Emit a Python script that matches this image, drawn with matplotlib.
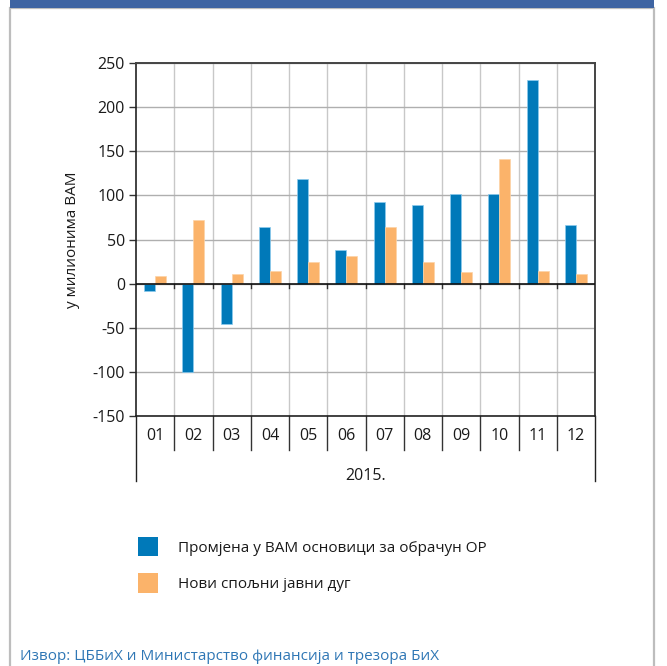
"""Monthly change in the VAM base vs. new external public debt, 2015."""

import matplotlib.pyplot as plt
from matplotlib.patches import Patch, Rectangle
import numpy as np

plt.rcParams["font.family"] = ["Open Sans", "DejaVu Sans"]
plt.rcParams["axes.unicode_minus"] = False

months = ["01", "02", "03", "04", "05", "06", "07", "08", "09", "10", "11", "12"]
year_label = "2015."
vam_base_change = [-8.6, -100.7, -46.2, 64, 119, 38, 92.3, 89.3, 101.7, 101.7, 231, 66]
new_external_debt = [8.3, 72.3, 11.3, 14.7, 24, 31.6, 64.4, 24, 12.8, 141, 14.7, 11.3]
series_labels = ["Промјена у ВАМ основици за обрачун ОР", "Нови спољни јавни дуг"]
y_label = "у милионима ВАМ"
source_text = "Извор: ЦББиХ и Министарство финансија и трезора БиХ"

BLUE = "#0079B9"
ORANGE = "#FBB36A"
GRID = "#AFAFAF"
DARK = "#333333"
TEXT = "#1a1a1a"


def main() -> None:
    fig = plt.figure(figsize=(6.67, 6.66), dpi=100)
    W, H = 667, 666

    # frame around the chart box
    fig.add_artist(Rectangle((10 / W, -0.01), 644 / W, 1.01 - 8 / H, transform=fig.transFigure,
                             fill=False, edgecolor="#BDBDBD", linewidth=1.6))
    fig.add_artist(Rectangle((10 / W, 1 - 8 / H), 644 / W, 8 / H, transform=fig.transFigure,
                             facecolor="#3E64A2", edgecolor="none"))

    ax = fig.add_axes([136 / W, 1 - 416 / H, 459 / W, 353 / H])
    x = np.arange(len(months))
    width = 0.29
    ax.bar(x - width / 2, vam_base_change, width, color=BLUE, edgecolor="#8CCBEE",
           linewidth=0.5, zorder=3)
    ax.bar(x + width / 2, new_external_debt, width, color=ORANGE, edgecolor="#FDD3A6",
           linewidth=0.5, zorder=3)

    ax.set_xlim(-0.5, len(months) - 0.5)
    ax.set_ylim(-150, 250)
    ax.set_yticks(np.arange(-150, 251, 50))
    ax.yaxis.grid(True, color=GRID, linewidth=1.0, zorder=0)
    for b in np.arange(0.5, len(months) - 0.5):
        ax.axvline(b, color="#C8C8C8", linewidth=1.0, zorder=0)
        ax.plot([b, b], [0, -4.5], color=DARK, linewidth=1.0, zorder=4)
    ax.axhline(0, color="#111111", linewidth=1.2, zorder=4)

    ax.set_xticks([])
    ax.tick_params(axis="y", length=5, width=1, color=DARK, labelsize=11.5, pad=3,
                   labelcolor=TEXT)
    for side in ("left", "bottom"):
        ax.spines[side].set_color("#222222")
        ax.spines[side].set_linewidth(1.2)
    for side in ("top", "right"):
        ax.spines[side].set_color("#444444")
        ax.spines[side].set_linewidth(1.4)

    # category table under the plot
    trans = ax.get_xaxis_transform()
    for b in np.arange(0.5, len(months) - 0.5):
        ax.plot([b, b], [0, -34 / 353], transform=trans, color=DARK, linewidth=1.0,
                clip_on=False)
    for b in (-0.5, len(months) - 0.5):
        ax.plot([b, b], [0, -65 / 353], transform=trans, color="#222222", linewidth=1.0,
                clip_on=False)
    for xi, m in zip(x, months):
        ax.text(xi, -20 / 353, m, transform=trans, ha="center", va="center",
                fontsize=11.5, color=TEXT)
    ax.text((len(months) - 1) / 2, -60 / 353, year_label, transform=trans, ha="center",
            va="center", fontsize=11.5, color=TEXT)

    ax.set_ylabel(y_label, fontsize=11, color=TEXT, labelpad=9)

    handles = [Patch(facecolor=BLUE), Patch(facecolor=ORANGE)]
    fig.legend(handles, series_labels, loc="upper left",
               bbox_to_anchor=(124 / W, 1 - 523 / H), frameon=False, fontsize=11,
               handlelength=1.3, handleheight=1.6, handletextpad=1.35, labelspacing=1.1,
               labelcolor=TEXT)

    fig.text(20 / W, 2 / H, source_text, ha="left", va="bottom", fontsize=11,
             color="#2F77B5")

    fig.savefig("out.png", dpi=100)


if __name__ == "__main__":
    main()
